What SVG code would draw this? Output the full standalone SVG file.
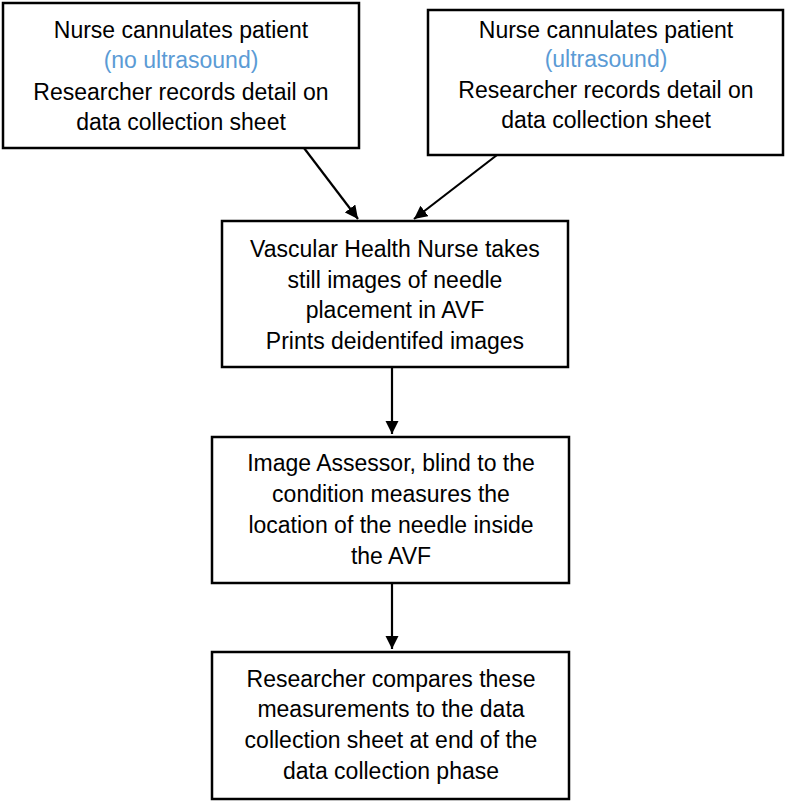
<svg xmlns="http://www.w3.org/2000/svg" width="787" height="802" viewBox="0 0 787 802">
<defs>
<marker id="ah" viewBox="0 0 10 10" refX="10" refY="5" markerWidth="6" markerHeight="6" orient="auto" markerUnits="strokeWidth">
<path d="M0,0 L10,5 L0,10 z" fill="#000"/>
</marker>
<style>
.box{fill:#fff;stroke:#000;stroke-width:2.5}
.t{font-family:"Liberation Sans",Arial,sans-serif;font-size:23px;fill:#000;text-anchor:middle}
.b{fill:#5b9bd5}
.c{stroke:#000;stroke-width:2.2;fill:none;marker-end:url(#ah)}
</style>
</defs>
<rect width="787" height="802" fill="#fff"/>
<g id="connectors">
<line class="c" x1="304" y1="148" x2="358" y2="219"/>
<line class="c" x1="497" y1="155" x2="414" y2="219"/>
<line class="c" x1="392" y1="367" x2="392" y2="434"/>
<line class="c" x1="392" y1="583" x2="392" y2="649"/>
</g>
<g id="n1">
<rect class="box" x="3" y="3" width="356" height="145"/>
<text class="t" x="181" y="38">Nurse cannulates patient</text>
<text class="t b" x="181" y="68">(no ultrasound)</text>
<text class="t" x="181" y="100">Researcher records detail on</text>
<text class="t" x="181" y="130">data collection sheet</text>
</g>
<g id="n2">
<rect class="box" x="428" y="10" width="355" height="145"/>
<text class="t" x="606" y="38">Nurse cannulates patient</text>
<text class="t b" x="606" y="67">(ultrasound)</text>
<text class="t" x="606" y="98">Researcher records detail on</text>
<text class="t" x="606" y="128">data collection sheet</text>
</g>
<g id="n3">
<rect class="box" x="222" y="221" width="346" height="146"/>
<text class="t" x="395" y="257">Vascular Health Nurse takes</text>
<text class="t" x="395" y="288">still images of needle</text>
<text class="t" x="395" y="318">placement in AVF</text>
<text class="t" x="395" y="349">Prints deidentifed images</text>
</g>
<g id="n4">
<rect class="box" x="212" y="437" width="357" height="146"/>
<text class="t" x="391" y="471">Image Assessor, blind to the</text>
<text class="t" x="391" y="502">condition measures the</text>
<text class="t" x="391" y="533">location of the needle inside</text>
<text class="t" x="391" y="564">the AVF</text>
</g>
<g id="n5">
<rect class="box" x="212" y="652" width="357" height="147"/>
<text class="t" x="391" y="687">Researcher compares these</text>
<text class="t" x="391" y="717">measurements to the data</text>
<text class="t" x="391" y="748">collection sheet at end of the</text>
<text class="t" x="391" y="779">data collection phase</text>
</g>
</svg>
